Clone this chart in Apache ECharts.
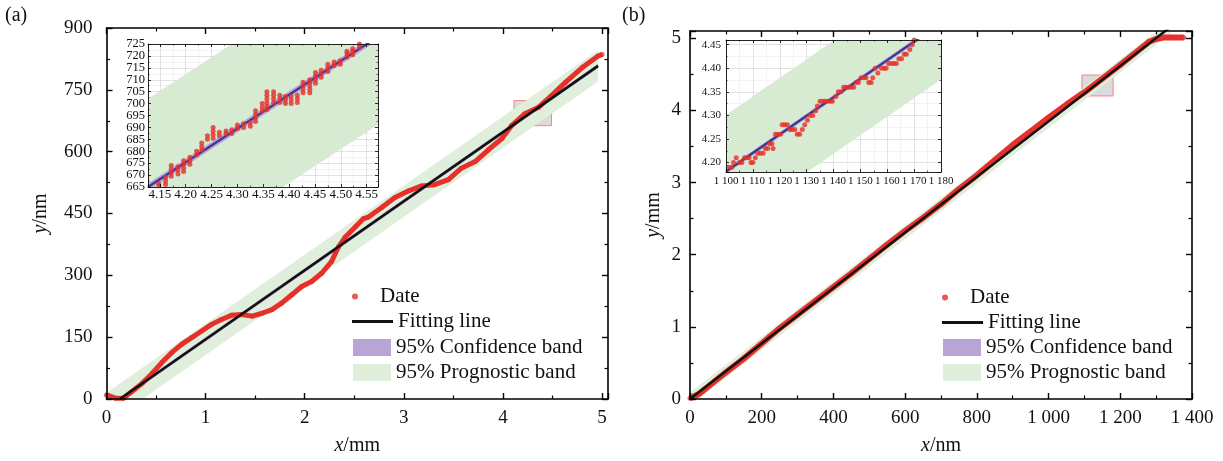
<!DOCTYPE html>
<html><head><meta charset="utf-8">
<script src="https://cdn.jsdelivr.net/npm/echarts@6/dist/echarts.min.js"></script>
<style>html,body{margin:0;padding:0;background:#fff}#c{width:1223px;height:461px}</style>
</head><body><div id="c"></div>
<script>
// ================= DATA =================
// (a) main panel: x/mm, y/nm
const aDataX = [0.00,0.09,0.17,0.25,0.36,0.46,0.56,0.66,0.76,0.86,0.96,1.06,1.16,1.26,1.36,1.47,1.57,1.67,1.77,1.87,1.97,2.07,2.17,2.27,2.34,2.41,2.51,2.59,2.64,2.78,2.91,3.05,3.18,3.31,3.45,3.58,3.72,3.85,3.99,4.09,4.22,4.36,4.49,4.63,4.80,4.96,5.00];
const aDataY = [10,2,2,17,38,62,89,113,133,149,165,181,193,203,205,201,208,217,233,253,273,285,305,333,369,393,417,437,441,465,489,505,517,520,532,560,576,604,632,664,692,708,736,768,804,832,836];
const aFitX = [0.136, 4.96];
const aFitY = [0, 808];
const aBandX = [0, 4.96];
const aProgLo = [-61, 770];
const aProgHi = [15, 846];
const aConfLo = [-28, 803];
const aConfHi = [-18, 813];
const aZoomBox = [4.11, 663, 4.49, 724];

// (a) inset
const aInsetX = [4.148,4.161,4.172,4.185,4.196,4.208,4.221,4.231,4.242,4.253,4.265,4.278,4.289,4.300,4.312,4.325,4.335,4.348,4.357,4.370,4.382,4.393,4.404,4.416,4.427,4.440,4.451,4.462,4.475,4.487,4.499,4.512,4.523,4.536];
const aInsetY = [[665.5,666.5],[666,667.5,669],[669.5,671,672.5,674],[670.5,672,673.5],[671.5,673,674.5,676],[674.5,676,677.5],[678.5,680],[680.5,682,683.5],[685,686.5],[685.5,687,688.5,690],[686.5,688],[687.5,688.5],[687.5,689],[689.5,691],[690,691.5],[690.5,692],[692.5,694,695.5,697],[697,698.5,700],[697.5,699,700.5,702,703.5,705],[700.5,702,703.5,705],[700.5,702,703.5],[700,701.5,703],[700,701.5,703],[700.5,702,703.5],[704.5,706,707.5,709],[704.5,706,707.5,709,710],[708.5,710,711.5,713],[711,712.5,714],[713.5,715,716.5],[716,717.5],[716.5,718],[719.5,721,722],[720.5,722,723],[723.5,725]];
const aInsetFitX = [4.127, 4.572];
const aInsetFitY = [665, 728.1];
const aInsetProgLo = [628, 691.1];
const aInsetProgHi = [702, 765.1];
const aInsetConfLo = [663.5, 726.6];
const aInsetConfHi = [666.5, 729.6];

// (b) main panel: x/nm, y/mm
const bDataX = [0,25,50,75,100,150,200,250,300,350,400,450,500,550,600,650,700,750,800,850,900,950,1000,1050,1100,1150,1200,1250,1280,1300,1320,1350,1377];
const bDataY = [0.01,0.07,0.17,0.27,0.37,0.56,0.77,0.98,1.17,1.36,1.55,1.74,1.94,2.14,2.33,2.51,2.70,2.91,3.10,3.31,3.52,3.71,3.90,4.08,4.25,4.44,4.63,4.83,4.95,4.99,5.01,5.01,5.01];
const bFitX = [0, 1340];
const bFitY = [0, 5.156];
const bBandX = [0, 1340];
const bProgLo = [-0.09, 5.066];
const bProgHi = [0.09, 5.246];
const bConfLo = [-0.02, 5.136];
const bConfHi = [0.02, 5.176];
const bZoomBox = [1093, 4.20, 1180, 4.49];

// (b) inset
const bInsetX = [1100.9,1102.1,1102.8,1103.8,1105,1105.9,1106.9,1107.8,1108.6,1109.3,1110,1110.9,1111.8,1112.8,1113.8,1114.6,1115.5,1116.3,1117.1,1117.5,1118.4,1119.3,1120.3,1120.9,1121.8,1122.8,1123.8,1124.6,1125.6,1126.5,1127.4,1128.4,1129.3,1130.3,1131.3,1132.3,1133.4,1134,1135,1135.9,1136.8,1137.8,1138.8,1139.6,1140.9,1141.8,1142.8,1143.8,1144.6,1145.6,1146.5,1147.5,1148.4,1149.3,1150.3,1151.3,1152.1,1153.1,1154,1154.6,1155.5,1156.5,1157.8,1158.8,1159.6,1160.5,1161.5,1162.5,1163.4,1164.3,1165.3,1166.3,1167.1,1168.4,1169.3,1170];
const bInsetY = [4.19,4.19,4.20,4.21,4.20,4.20,4.21,4.21,4.21,4.20,4.20,4.21,4.22,4.22,4.22,4.23,4.23,4.24,4.24,4.23,4.26,4.26,4.26,4.28,4.28,4.28,4.27,4.27,4.27,4.26,4.26,4.27,4.28,4.29,4.30,4.30,4.31,4.32,4.33,4.33,4.33,4.33,4.33,4.33,4.34,4.35,4.35,4.36,4.36,4.36,4.36,4.36,4.37,4.37,4.38,4.38,4.38,4.37,4.37,4.38,4.40,4.39,4.40,4.40,4.40,4.41,4.41,4.41,4.41,4.42,4.42,4.43,4.43,4.44,4.45,4.46];
const bInsetFitX = [1100, 1180];
const bInsetFitY = [4.181, 4.496];
const bInsetProgLo = [4.061, 4.376];
const bInsetProgHi = [4.301, 4.616];
const bInsetConfLo = [4.176, 4.491];
const bInsetConfHi = [4.186, 4.501];

// ================= RENDER =================
const FONT = '"Liberation Serif","Times New Roman",serif';
const RED = '#e6302a';
const PROG = '#e0efdc';
const PROG_IN = '#d6ebd2';
const CONF = '#b9a5d5';

function zip(xs, ys) { return xs.map((x, i) => [x, ys[i]]); }

function clipPoly(pts, r) {
  const bounds = [[0, r.x, 1], [0, r.x + r.width, -1], [1, r.y, 1], [1, r.y + r.height, -1]];
  let out = pts;
  for (const [ax, val, dir] of bounds) {
    const inp = out; out = [];
    for (let i = 0; i < inp.length; i++) {
      const cur = inp[i], prev = inp[(i + inp.length - 1) % inp.length];
      const cin = (cur[ax] - val) * dir >= 0, pin = (prev[ax] - val) * dir >= 0;
      const inter = () => { const t = (val - prev[ax]) / (cur[ax] - prev[ax]); return [prev[0] + t * (cur[0] - prev[0]), prev[1] + t * (cur[1] - prev[1])]; };
      if (cin) { if (!pin) out.push(inter()); out.push(cur); }
      else if (pin) out.push(inter());
    }
    if (!out.length) break;
  }
  return out;
}

function band(name, xi, yi, xs, lo, hi, color, z) {
  return {
    name, type: 'custom', xAxisIndex: xi, yAxisIndex: yi, z, silent: true,
    itemStyle: { color },
    data: xs.map((x, i) => [x, lo[i], hi[i]]),
    encode: { x: 0, y: [1, 2] },
    renderItem: function (params, api) {
      if (params.dataIndex !== 0) return null;
      const pts = [];
      for (let i = 0; i < xs.length; i++) pts.push(api.coord([xs[i], lo[i]]));
      for (let i = xs.length - 1; i >= 0; i--) pts.push(api.coord([xs[i], hi[i]]));
      const cp = clipPoly(pts, params.coordSys);
      return { type: 'polygon', shape: { points: cp }, style: { fill: color } };
    }
  };
}

const lbl = (o) => Object.assign({ show: true, fontFamily: FONT, fontSize: 19, color: '#111', margin: 10 }, o || {});

function frameAxis(o, small) {
  return Object.assign({
    type: 'value', z: small ? 16 : 5,
    axisLine: { show: true, onZero: false, lineStyle: { color: small ? '#222' : '#000', width: small ? 1 : 1.6 } },
    axisTick: { show: true, inside: true, length: small ? 3 : 6, lineStyle: { color: '#000', width: small ? 0.8 : 1.4 } },
    minorTick: { show: true, splitNumber: 2, length: small ? 1.5 : 3.5, lineStyle: { color: '#000', width: small ? 0.6 : 1.2 } },
    splitLine: { show: false },
    axisLabel: { show: false }
  }, o);
}
function gridAxis(o) {
  return Object.assign({
    type: 'value', z: 11,
    axisLine: { show: false }, axisTick: { show: false }, axisLabel: { show: false },
    splitLine: { show: true, lineStyle: { color: '#cfcfcf', width: 0.6 } },
    minorSplitLine: { show: true, lineStyle: { color: '#e6e6e6', width: 0.5 } },
    minorTick: { show: false, splitNumber: 2 }
  }, o);
}
function labelOnlyAxis(o) {
  return Object.assign({
    type: 'value', z: 16, axisLine: { show: false }, axisTick: { show: false }, minorTick: { show: false },
    splitLine: { show: false }
  }, o);
}

const nameStyle = () => ({ fontFamily: FONT, fontSize: 20, color: '#111', rich: { i: { fontFamily: FONT, fontSize: 20, fontStyle: 'italic', color: '#111' } } });

const thou = (v) => v >= 1000 ? Math.floor(v / 1000) + ' ' + String(Math.round(v % 1000)).padStart(3, '0') : String(v);

const xAxis = [
  frameAxis({ gridIndex: 0, position: 'bottom', min: 0, max: 5.06, interval: 1,
    axisLabel: lbl({ showMaxLabel: false, formatter: v => String(v) }),
    name: '{i|x}/mm', nameLocation: 'middle', nameGap: 37, nameTextStyle: nameStyle() }),
  frameAxis({ gridIndex: 0, position: 'top', min: 0, max: 5.06, interval: 1 }),
  frameAxis({ gridIndex: 1, position: 'bottom', min: 0, max: 1400, interval: 200,
    axisLabel: lbl({ formatter: thou, showMinLabel: true, showMaxLabel: true }),
    name: '{i|x}/nm', nameLocation: 'middle', nameGap: 37, nameTextStyle: nameStyle() }),
  frameAxis({ gridIndex: 1, position: 'top', min: 0, max: 1400, interval: 200 }),
  frameAxis({ gridIndex: 2, position: 'bottom', min: 4.127, max: 4.572, minInterval: 0.05, maxInterval: 0.05,
    axisLabel: lbl({ fontSize: 13, margin: 1, showMinLabel: false, showMaxLabel: false, formatter: v => v.toFixed(2) }) }, true),
  frameAxis({ gridIndex: 2, position: 'top', min: 4.127, max: 4.572, minInterval: 0.05, maxInterval: 0.05 }, true),
  gridAxis({ gridIndex: 2, position: 'bottom', min: 4.127, max: 4.572, minInterval: 0.05, maxInterval: 0.05 }),
  frameAxis({ gridIndex: 3, position: 'bottom', min: 1100, max: 1180, interval: 10,
    axisLabel: lbl({ fontSize: 11, margin: 4, formatter: thou, showMinLabel: true, showMaxLabel: true }) }, true),
  frameAxis({ gridIndex: 3, position: 'top', min: 1100, max: 1180, interval: 10 }, true),
  gridAxis({ gridIndex: 3, position: 'bottom', min: 1100, max: 1180, interval: 10 })
];

const yAxis = [
  frameAxis({ gridIndex: 0, position: 'left', min: 0, max: 900, interval: 150,
    axisLabel: lbl({ margin: 14, showMinLabel: true, showMaxLabel: true }),
    name: '{i|y}/nm', nameLocation: 'middle', nameGap: 56, nameTextStyle: nameStyle() }),
  frameAxis({ gridIndex: 0, position: 'right', min: 0, max: 900, interval: 150 }),
  frameAxis({ gridIndex: 1, position: 'left', min: 0, max: 5.1, interval: 1,
    axisLabel: lbl({ margin: 9, showMinLabel: true, showMaxLabel: false }),
    name: '{i|y}/mm', nameLocation: 'middle', nameGap: 26, nameTextStyle: nameStyle() }),
  frameAxis({ gridIndex: 1, position: 'right', min: 0, max: 5.1, interval: 1 }),
  frameAxis({ gridIndex: 2, position: 'left', min: 665, max: 725, interval: 5,
    axisLabel: lbl({ fontSize: 12.5, margin: 3, interval: 0, showMinLabel: false, showMaxLabel: false }) }, true),
  frameAxis({ gridIndex: 2, position: 'right', min: 665, max: 725, interval: 5 }, true),
  gridAxis({ gridIndex: 2, position: 'left', min: 665, max: 725, interval: 5 }),
  frameAxis({ gridIndex: 3, position: 'left', min: 4.18, max: 4.46, minInterval: 0.05, maxInterval: 0.05,
    axisLabel: lbl({ fontSize: 11, margin: 5, showMinLabel: false, showMaxLabel: false, formatter: v => v.toFixed(2) }) }, true),
  frameAxis({ gridIndex: 3, position: 'right', min: 4.18, max: 4.46, minInterval: 0.05, maxInterval: 0.05 }, true),
  gridAxis({ gridIndex: 3, position: 'left', min: 4.18, max: 4.46, minInterval: 0.05, maxInterval: 0.05 }),
  // (a) inset: end labels 665 / 725 on their own label-only axis
  labelOnlyAxis({ gridIndex: 2, position: 'left', min: 665, max: 725, interval: 60,
    axisLabel: lbl({ fontSize: 12.5, margin: 3, showMinLabel: true, showMaxLabel: true }) })
];

function zoomBox(b) {
  return { silent: true, itemStyle: { color: 'rgba(165,165,165,0.4)', borderColor: '#ec8a8a', borderWidth: 1 },
    data: [[{ coord: [b[0], b[1]] }, { coord: [b[2], b[3]] }]] };
}

const aInsetPts = [];
aInsetX.forEach((x, i) => aInsetY[i].forEach(y => aInsetPts.push([x, y])));

// legend-only swatch for the fitting line (a flat black bar)
const fitLegendSwatch = { name: 'Fitting line', type: 'custom', xAxisIndex: 0, yAxisIndex: 0, itemStyle: { color: '#111' },
  data: [], renderItem: () => null, silent: true };

const series = [
  fitLegendSwatch,
  band('95% Prognostic band', 0, 0, aBandX, aProgLo, aProgHi, PROG, 1),
  band('95% Confidence band', 0, 0, aBandX, aConfLo, aConfHi, CONF, 2),
  { name: 'aCurve', type: 'line', xAxisIndex: 0, yAxisIndex: 0, z: 3, data: zip(aDataX, aDataY), symbol: 'none',
    lineStyle: { color: RED, width: 5 }, silent: true },
  { name: 'Date', type: 'scatter', xAxisIndex: 0, yAxisIndex: 0, z: 3, data: zip(aDataX, aDataY), symbolSize: 5,
    itemStyle: { color: RED }, silent: true },
  { name: 'aFit', type: 'line', xAxisIndex: 0, yAxisIndex: 0, z: 4, data: zip(aFitX, aFitY), symbol: 'none',
    lineStyle: { color: '#111', width: 2.6 }, silent: true, markArea: zoomBox(aZoomBox) },
  band('95% Prognostic band', 2, 2, bBandX, bProgLo, bProgHi, PROG, 1),
  band('95% Confidence band', 2, 2, bBandX, bConfLo, bConfHi, CONF, 2),
  { name: 'bCurve', type: 'line', xAxisIndex: 2, yAxisIndex: 2, z: 3, data: zip(bDataX, bDataY), symbol: 'none',
    lineStyle: { color: RED, width: 6 }, silent: true },
  { name: 'Date', type: 'scatter', xAxisIndex: 2, yAxisIndex: 2, z: 3, data: zip(bDataX, bDataY), symbolSize: 5,
    itemStyle: { color: RED }, silent: true },
  { name: 'bFit', type: 'line', xAxisIndex: 2, yAxisIndex: 2, z: 4, data: zip(bFitX, bFitY), symbol: 'none',
    lineStyle: { color: '#111', width: 2.4 }, silent: true, markArea: zoomBox(bZoomBox) },
  band('aInsetProg', 4, 4, aInsetFitX, aInsetProgLo, aInsetProgHi, PROG_IN, 12),
  band('aInsetConf', 4, 4, aInsetFitX, aInsetConfLo, aInsetConfHi, CONF, 13),
  { name: 'aInsetFit', type: 'line', xAxisIndex: 4, yAxisIndex: 4, z: 13, data: zip(aInsetFitX, aInsetFitY), symbol: 'none',
    lineStyle: { color: '#3b3696', width: 2.2 }, silent: true },
  { name: 'aInsetDate', type: 'scatter', xAxisIndex: 4, yAxisIndex: 4, z: 14, data: aInsetPts, symbolSize: 5,
    itemStyle: { color: RED }, silent: true },
  band('bInsetProg', 7, 7, bInsetFitX, bInsetProgLo, bInsetProgHi, PROG_IN, 12),
  band('bInsetConf', 7, 7, bInsetFitX, bInsetConfLo, bInsetConfHi, CONF, 13),
  { name: 'bInsetFit', type: 'line', xAxisIndex: 7, yAxisIndex: 7, z: 13, data: zip(bInsetFitX, bInsetFitY), symbol: 'none',
    lineStyle: { color: '#3b3696', width: 2.2 }, silent: true },
  { name: 'bInsetDate', type: 'scatter', xAxisIndex: 7, yAxisIndex: 7, z: 14, data: zip(bInsetX, bInsetY), symbolSize: 5,
    itemStyle: { color: RED }, silent: true }
];

const legText = { fontFamily: FONT, fontSize: 21, color: '#111' };
function legends(left, tops) {
  return [
    { left: left, top: tops[0], padding: 0, itemWidth: 40, itemHeight: 6, selectedMode: false, textStyle: legText,
      data: [{ name: 'Date', icon: 'circle' }] },
    { left: left, top: tops[1], padding: 0, itemWidth: 41, itemHeight: 3, selectedMode: false, textStyle: legText,
      data: [{ name: 'Fitting line', icon: 'rect' }] },
    { left: left + 1, top: tops[2], padding: 0, itemWidth: 38, itemHeight: 17, itemGap: 4, orient: 'vertical', selectedMode: false, textStyle: legText,
      data: [{ name: '95% Confidence band', icon: 'rect' }, { name: '95% Prognostic band', icon: 'rect' }] }
  ];
}

const option = {
  animation: false,
  backgroundColor: '#fff',
  title: [
    { text: '(a)', left: 5, top: 6, padding: 0, textStyle: { fontFamily: FONT, fontSize: 20, fontWeight: 'normal', color: '#111' } },
    { text: '(b)', left: 622, top: 6, padding: 0, textStyle: { fontFamily: FONT, fontSize: 20, fontWeight: 'normal', color: '#111' } }
  ],
  grid: [
    { left: 106.5, top: 28, width: 501.5, height: 376 },
    { left: 690, top: 31, width: 502, height: 372.5 },
    { left: 148, top: 44, width: 230, height: 143, show: true, backgroundColor: '#fff', borderWidth: 0, z: 10 },
    { left: 726, top: 40, width: 215, height: 132, show: true, backgroundColor: '#fff', borderWidth: 0, z: 10 }
  ],
  legend: legends(352, [286, 311, 337]).concat(legends(942, [287, 312, 337])),
  xAxis, yAxis, series
};

const chart = echarts.init(document.getElementById('c'), null, { renderer: 'canvas' });
chart.setOption(option);
</script>
</body></html>
